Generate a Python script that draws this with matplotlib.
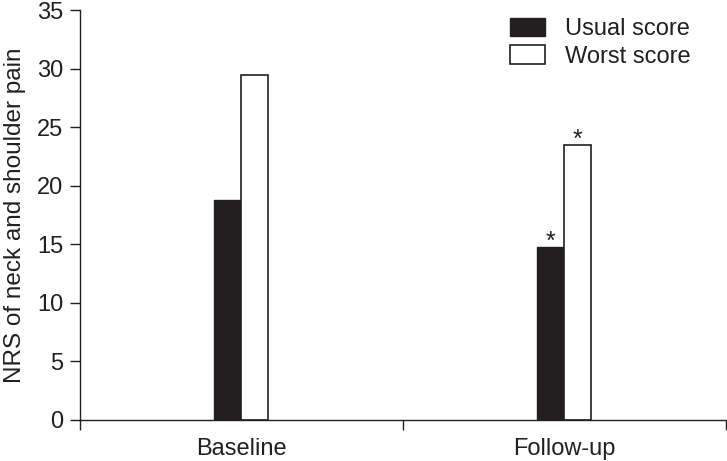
import numpy as np
import matplotlib
matplotlib.use('Agg')
import matplotlib.pyplot as plt
from matplotlib.ticker import FixedLocator

groups = ['Baseline', 'Follow-up']
usual = [18.8, 14.8]
worst = [29.5, 23.5]
usual_star = [False, True]
worst_star = [False, True]

dark = '#231f20'
plt.rcParams['font.family'] = ['Liberation Sans', 'DejaVu Sans']
plt.rcParams['text.color'] = dark

fig = plt.figure(figsize=(7.27, 4.61), dpi=100)
ax = fig.add_axes([0.110, 0.089, 0.888, 0.889])

x = np.arange(len(groups))
w = 0.084
ax.bar(x - w/2, usual, w, color=dark, edgecolor=dark, linewidth=1, label='Usual score')
ax.bar(x + w/2, worst, w, color='white', edgecolor=dark, linewidth=1.2, label='Worst score')

# significance marks
for i in range(len(groups)):
    if usual_star[i]:
        ax.text(x[i] - w/2, usual[i] - 0.6, '*', ha='center', va='bottom', fontsize=18, color=dark)
    if worst_star[i]:
        ax.text(x[i] + w/2, worst[i] - 0.6, '*', ha='center', va='bottom', fontsize=18, color=dark)

ax.set_xlim(-0.5, 1.5)
ax.set_ylim(0, 35)
ax.set_yticks(np.arange(0, 36, 5))
ax.set_xticks(x)
ax.set_xticklabels(groups)
ax.xaxis.set_minor_locator(FixedLocator([-0.5, 0.5, 1.5]))
ax.tick_params(axis='x', which='major', length=0, pad=13, labelsize=17, labelcolor=dark)
ax.tick_params(axis='x', which='minor', length=7, width=1, color=dark, direction='out')
ax.tick_params(axis='y', length=7, width=1, color=dark, labelsize=17, labelcolor=dark, pad=5)
ax.set_ylabel('NRS of neck and shoulder pain', fontsize=17.5, color=dark, labelpad=8)

for s in ['top', 'right']:
    ax.spines[s].set_visible(False)
for s in ['left', 'bottom']:
    ax.spines[s].set_color(dark)
    ax.spines[s].set_linewidth(1)

ax.legend(loc='upper left', bbox_to_anchor=(0.651, 1.005), frameon=False, fontsize=17,
          handlelength=1.48, handleheight=0.85, labelspacing=0.22, handletextpad=0.85,
          borderaxespad=0.0)

plt.savefig('out.png', dpi=100)
